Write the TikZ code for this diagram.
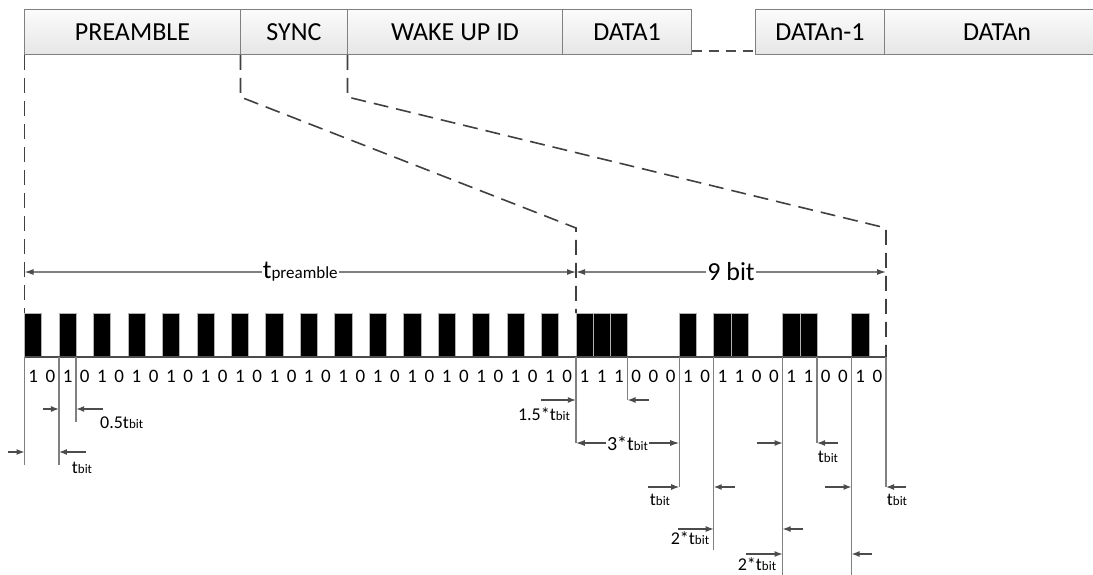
\documentclass[tikz,border=0pt]{standalone}
\usepackage{fontspec}
\setmainfont{Carlito}
\usetikzlibrary{arrows.meta,positioning}

\newcommand\tsub[1]{t{\fontsize{13}{13}\selectfont #1}}

\tikzset{
  hdr/.style={draw=gray, line width=1pt, top color=gray!3, bottom color=gray!20,
    minimum height=45pt, inner sep=0pt, outer sep=0pt, font=\fontsize{26}{30}\selectfont},
  gap/.style={draw=black!70, line width=1.2pt, dash pattern=on 10pt off 7pt},
  zoomline/.style={draw=black!75, line width=1.6pt, dash pattern=on 15pt off 8pt},
  bar/.style={fill=black, draw=gray!60, line width=0.5pt},
  base/.style={draw=black!70, line width=1.2pt},
  tick/.style={draw=gray, line width=1.4pt},
  arr/.style={draw=black!70, line width=1.2pt, -{Latex[length=8pt,width=6pt]}},
  dim/.style={draw=gray, line width=1.2pt,
    {Latex[length=9pt,width=6pt,color=black!70]}-{Latex[length=9pt,width=6pt,color=black!70]}},
  digit/.style={font=\fontsize{19}{19}\selectfont, inner sep=0pt},
  lbl/.style={font=\fontsize{18}{18}\selectfont, inner sep=1pt},
}

\begin{document}
\begin{tikzpicture}[x=1pt, y=-1pt]
\useasboundingbox (0,0) rectangle (1093,575);
\clip (0,0) rectangle (1093,575);

% frame
\node[hdr, anchor=north west, minimum width=216pt] (pre) at (24.5,10) {PREAMBLE};
\node[hdr, minimum width=107pt, right=0pt of pre] (sync) {SYNC};
\node[hdr, minimum width=215pt, right=0pt of sync] (wake) {WAKE UP ID};
\node[hdr, minimum width=129pt, right=0pt of wake] (data1) {DATA1};
\node[hdr, minimum width=129pt, right=64pt of data1] (datan1) {DATAn-1};
\node[hdr, minimum width=225pt, right=0pt of datan1] (datan) {DATAn};

\coordinate (g1) at ([yshift=4pt]data1.south east);
\coordinate (g2) at ([yshift=4pt]datan1.south west);
\draw[gap] (g1) -- (g2);

% zoom lines
\coordinate (pbot) at (24.5,313);
\coordinate (sbend) at ([yshift=-42pt]sync.south west);
\coordinate (wbend) at ([yshift=-42pt]wake.south west);
\coordinate (sdrop) at (576,228);
\coordinate (stop) at (576,313);
\coordinate (wdrop) at (886,228);
\coordinate (wtop) at (886,357);
\draw[zoomline] (pre.south west) -- (pbot);
\draw[zoomline] (sync.south west) -- (sbend) -- (sdrop) -- (stop);
\draw[zoomline] (wake.south west) -- (wbend) -- (wdrop) -- (wtop);

% durations
\coordinate (dl) at (24.5,272);
\coordinate (dm) at (576,272);
\coordinate (dr) at (886,272);
\draw[dim] (dl) -- node[fill=white, inner sep=1pt] (tpre)
  {\fontsize{26}{26}\selectfont t\fontsize{17}{17}\selectfont preamble} (dm);
\draw[dim] (dm) -- node[fill=white, inner sep=1pt, font=\fontsize{26}{26}\selectfont] (nine)
  {9 bit} (dr);

% signal
\foreach \k in {0,2,...,30,32,33,34,38,40,41,44,45,48}
  \draw[bar] ({24.5+\k*17.23},313) rectangle ({24.5+(\k+1)*17.23},357);
\coordinate (p0) at (24.5,357);
\coordinate (pn) at (886,357);
\draw[base] (p0) -- (pn);

\foreach \b [count=\k from 0] in {1,0,1,0,1,0,1,0,1,0,1,0,1,0,1,0,1,0,1,0,1,0,1,0,1,0,1,0,1,0,1,0,
    1,1,1,0,0,0,1,0,1,1,0,0,1,1,0,0,1,0}
  \node[digit] (d\k) at ({24.5+(\k+0.5)*17.23},376) {\b};

% timing marks
\foreach \k/\yb in {0/465,2/465,3/422,32/443,35/400,38/487,40/550,44/580,46/443,48/580,50/487} {
  \coordinate (t\k) at ({24.5+\k*17.23},357);
  \coordinate (b\k) at ({24.5+\k*17.23},\yb);
  \draw[tick] (t\k) -- (b\k);
}

\foreach \sx/\sy/\k [count=\i] in {8/452/0, 86/452/2, 43/409/2, 103/409/3, 541/400/32,
    649/400/35, 757/443/44, 838/443/46, 648/487/38, 735/487/40, 825/487/48, 906/487/50,
    678/529/40, 803/529/44, 746/554/44, 872/554/48} {
  \coordinate (q\i) at (\sx,\sy);
  \draw[arr] (q\i) -- (q\i -| t\k);
}

\draw[dim, draw=black!70] (b32) -- node[fill=white, inner sep=1pt, font=\fontsize{20}{20}\selectfont] (three)
  {3*\tsub{bit}} (b32 -| t38);

\node[lbl, anchor=west] (l05) at (99,423) {0.5\tsub{bit}};
\node[lbl] (l1) at (82,468) {\tsub{bit}};
\node[lbl] (l15) at (544,414) {1.5*\tsub{bit}};
\node[lbl] (l2) at (660,500) {\tsub{bit}};
\node[lbl] (l3) at (690,538) {2*\tsub{bit}};
\node[lbl] (l4) at (757,564) {2*\tsub{bit}};
\node[lbl] (l5) at (828,457) {\tsub{bit}};
\node[lbl] (l6) at (897,500) {\tsub{bit}};
\end{tikzpicture}
\end{document}
